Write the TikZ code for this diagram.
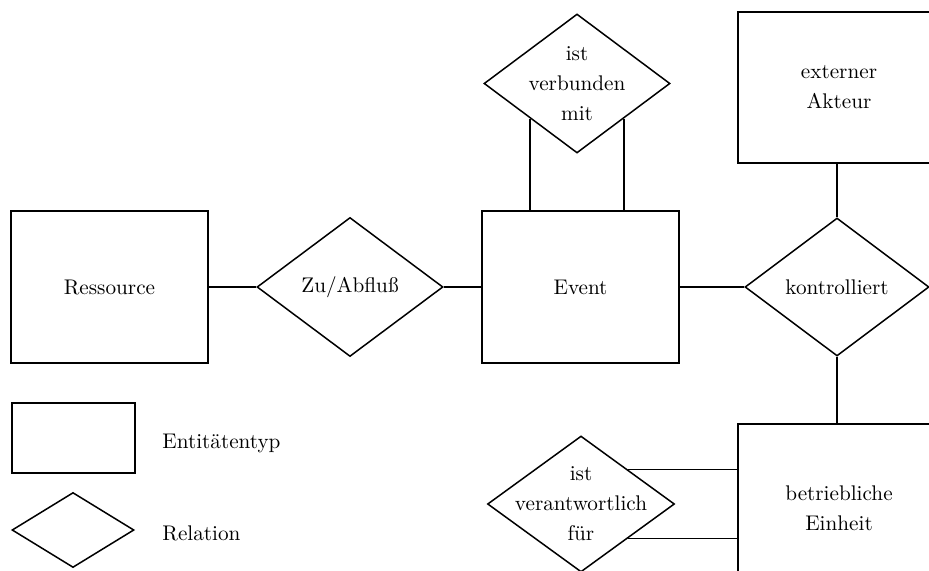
\documentclass[tikz,border=0pt]{standalone}
\usetikzlibrary{shapes.geometric}
\begin{document}
\begin{tikzpicture}[x=0.5pt,y=-0.5pt,
  every node/.style={font=\fontsize{10.6}{15}\selectfont, align=center, inner sep=0pt},
  ent/.style={draw, line width=0.75pt, rectangle},
  rel/.style={draw, line width=0.75pt, diamond},
  conn/.style={line width=0.75pt}]
\useasboundingbox (0,0) rectangle (929,571);
\clip (0,0) rectangle (929,571);
% entities
\node[ent, minimum width=98.5pt, minimum height=76pt] (res) at (109.5,287) {Ressource};
\node[ent, minimum width=98.5pt, minimum height=76pt] (evt) at (580.5,287) {Event};
\node[ent, minimum width=101pt, minimum height=75.5pt] (ext) at (839,87.5) {externer\\Akteur};
\node[ent, minimum width=101pt, minimum height=84pt] (bet) at (839,508) {betriebliche\\Einheit};
% relations
\node[rel, minimum width=93pt, minimum height=69.5pt] (zu) at (350,287) {};
\node (zutxt) at (zu.center) {Zu/Abflu\ss};
\node[rel, minimum width=93pt, minimum height=69.5pt] (verb) at (577,83.5) {};
\node (verbtxt) at (verb.center) {ist\\verbunden\\mit};
\node[rel, minimum width=92pt, minimum height=69pt] (kon) at (837,287) {};
\node (kontxt) at (kon.center) {kontrolliert};
\node[rel, minimum width=93.5pt, minimum height=68pt] (ver) at (581,504) {};
\node (vertxt) at (ver.center) {ist\\verantwortlich\\f\"ur};
% legend
\node[ent, minimum width=61.5pt, minimum height=35pt] (lent) at (73.5,438) {};
\node[rel, minimum width=61pt, minimum height=37.5pt] (lrel) at (73,530) {};
\node[anchor=west] (lenttxt) at (162,443) {Entit\"atentyp};
\node[anchor=west] (lreltxt) at (162,533) {Relation};
% connectors
\draw[conn] (res.east) -- (zu.west);
\draw[conn] (zu.east) -- (evt.west);
\draw[conn] (evt.east) -- (kon.west);
\draw[conn] (kon.north) -- (kon.north |- ext.south);
\draw[conn] (kon.south) -- (kon.south |- bet.north);
\draw[conn] (verb.south west) -- (verb.south west |- evt.north);
\draw[conn] (verb.south east) -- (verb.south east |- evt.north);
\draw[conn] (ver.north east) -- (ver.north east -| bet.west);
\draw[conn] (ver.south east) -- (ver.south east -| bet.west);
\end{tikzpicture}
\end{document}
